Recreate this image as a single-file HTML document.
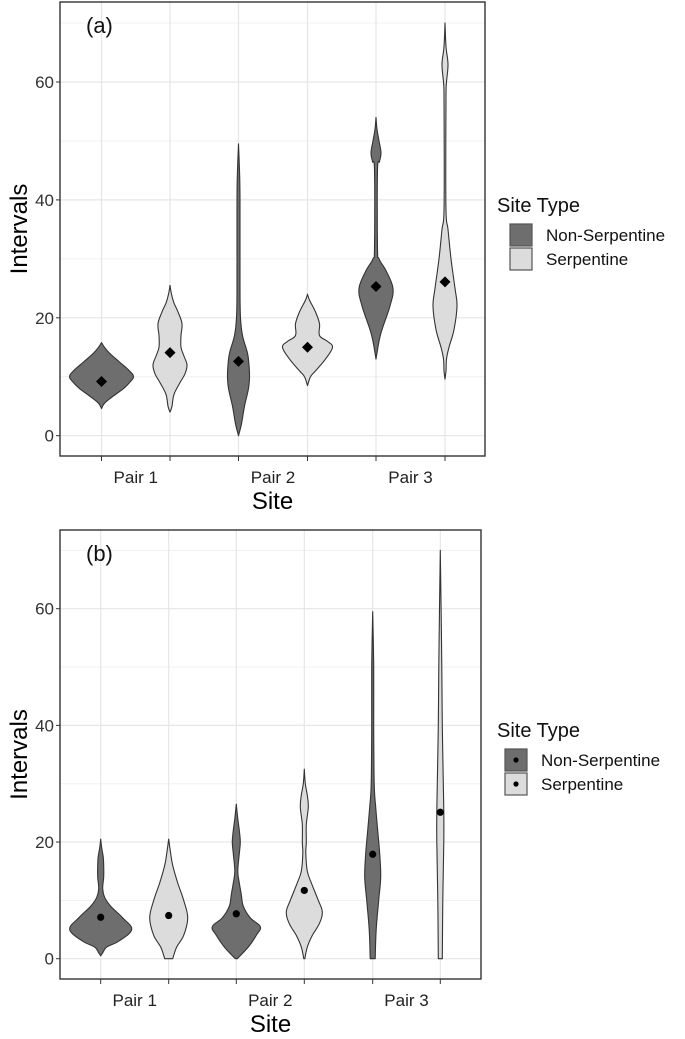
<!DOCTYPE html>
<html><head><meta charset="utf-8"><style>
body{margin:0;background:#fff;}
svg text{font-family:"Liberation Sans",sans-serif;}
</style></head><body>
<svg id="chart" width="685" height="1034" viewBox="0 0 685 1034" xmlns="http://www.w3.org/2000/svg"></svg>
<script>
// ---- data ----
const sites = ["Pair 1","Pair 2","Pair 3"];
const siteTypes = ["Non-Serpentine","Serpentine"];
const yTicks = [0,20,40,60];
// panel (a) density profiles: [value, relative half-width]
const aProfiles = [
 [[4.6,0],[5.5,3],[6.5,10],[8,22],[9,28],[10,32],[11,28],[12.5,18],[14,8],[15,3],[15.8,0]],
 [[4,0],[5,2],[7,4],[9,10],[10.5,15],[12,17],[13.5,14],[15,11],[17,11],[19,12],[21,8],[22.5,4],[24,1.5],[25.5,0]],
 [[0,0],[2,3],[5,6],[8,10],[10,11],[12,10.5],[14,9],[17,4],[20,2],[25,1.5],[40,1.5],[45,1],[49.5,0]],
 [[8.5,0],[10,3],[11,8],[13,18],[15,25],[16,20],[17,12],[19,12],[21,8],[23,2],[24,0]],
 [[13,0],[16,3],[18,6],[22,14],[25,17],[28,10],[30,3],[32,1.5],[45,1.5],[46.5,3.5],[48,5],[50,3],[52,1],[54,0]],
 [[9.6,0],[11,1],[13,1.5],[15,4],[18,9],[22,12],[25,10],[30,6],[35,3],[38,1],[50,0.8],[58,1],[60,1.5],[63,3],[66,1],[70,0]]
];
const aMeans = [9.2,14.1,12.6,15.0,25.3,26.1];
// panel (b)
const bProfiles = [
 [[0.5,0],[1,2],[2,6],[3,18],[5,31],[7,22],[9,10],[10.5,4],[12,2],[14,3],[16,3],[17.5,2.5],[19,1],[20.5,0]],
 [[0,0],[0,4],[2,8],[4,15],[7,19],[10,15],[13,9],[16,4],[18,2],[20.5,0]],
 [[0,0],[0,1],[2,12],[4,20],[5.5,24],[7,14],[9,7],[11,5],[13,3],[15,1.5],[18,3],[20,4],[22,3],[24,1.5],[26.5,0]],
 [[0,0],[0,0.5],[2,3],[4,8],[6,15],[8,18],[10,14],[13,7],[15,3],[18,1.5],[20,2],[23,2],[26,4],[28,3],[30,1],[32.5,0]],
 [[0,0],[0,2.5],[5,3.5],[10,6],[14,8],[18,7],[22,5],[26,3],[30,1.5],[40,1],[50,1],[59.5,0]],
 [[0,0],[0,2],[10,2.5],[20,3.5],[25,3.5],[30,3],[40,2],[50,1.5],[60,0.8],[70,0]]
];
const bMeans = [7.1,7.4,7.7,11.7,17.9,25.1];

const NS="http://www.w3.org/2000/svg";
const svg=document.getElementById('chart');
function mk(tag,attrs,parent){const e=document.createElementNS(NS,tag);for(const k in attrs)e.setAttribute(k,attrs[k]);(parent||svg).appendChild(e);return e;}
const fills=["#6e6e6e","#dcdcdc"];

function smooth(pts){
  let d='M'+pts[0][0]+','+pts[0][1];
  for(let i=0;i<pts.length-1;i++){
    const p1=pts[i],p2=pts[i+1];
    if(p1[1]===p2[1]){d+=`L${p2[0]},${p2[1]}`;continue;}
    let p0=pts[Math.max(0,i-1)],p3=pts[Math.min(pts.length-1,i+2)];
    if(p0[1]===p1[1])p0=p1;
    if(p3[1]===p2[1])p3=p2;
    const t=0.18;
    const c1=[p1[0]+(p2[0]-p0[0])*t,p1[1]+(p2[1]-p0[1])*t];
    const c2=[p2[0]-(p3[0]-p1[0])*t,p2[1]-(p3[1]-p1[1])*t];
    d+=`C${c1[0]},${c1[1]} ${c2[0]},${c2[1]} ${p2[0]},${p2[1]}`;
  }
  return d;
}

function panel(cfg){
  const g=mk('g',{});
  
  
  const yS=v=>cfg.y0-(cfg.y0-cfg.y60)*v/60;
  const xC=i=>cfg.xs[i];
  for(let v=10;v<=70;v+=20){const l=mk('line',{x1:cfg.L,x2:cfg.R,y1:yS(v),y2:yS(v),stroke:'#f0f0f0','stroke-width':1},g);
    }
  yTicks.forEach(v=>{const l=mk('line',{x1:cfg.L,x2:cfg.R,y1:yS(v),y2:yS(v),stroke:'#e6e6e6','stroke-width':1.2},g);
    
    const t=mk('text',{x:cfg.L-6,y:yS(v)+6,'text-anchor':'end','font-size':17,fill:'#333'},g);t.textContent=v;
    
    mk('line',{x1:cfg.L-4,x2:cfg.L,y1:yS(v),y2:yS(v),stroke:'#333'},g);
  });
  cfg.xs.forEach(x=>{const l=mk('line',{x1:x,x2:x,y1:cfg.T,y2:cfg.B,stroke:'#e6e6e6','stroke-width':1.2},g);
    
    mk('line',{x1:x,x2:x,y1:cfg.B,y2:cfg.B+5,stroke:'#333'},g);});
  cfg.profiles.forEach((p,i)=>{
    const cx=xC(i);
    const right=p.map(q=>[cx+q[1],yS(q[0])]);
    const left=p.slice().reverse().map(q=>[cx-q[1],yS(q[0])]);
    const d=smooth(right)+smooth(left).replace(/^M/,'L')+'Z';
    const path=mk('path',{d:d,fill:fills[i%2],stroke:'#333','stroke-width':1.1,'stroke-linejoin':'round'},g);
    
    
    const m=cfg.means[i], my=yS(m);
    let mark;
    if(cfg.diamond){mark=mk('path',{d:`M${cx},${my-5.5}L${cx+5.5},${my}L${cx},${my+5.5}L${cx-5.5},${my}Z`,fill:'#000'},g);}
    else{mark=mk('circle',{cx:cx,cy:my,r:3.6,fill:'#000'},g);}
    
    
  });
  const box=mk('rect',{x:cfg.L,y:cfg.T,width:cfg.R-cfg.L,height:cfg.B-cfg.T,fill:'none',stroke:'#333','stroke-width':1.4},g);
  
  sites.forEach((s,k)=>{const t=mk('text',{x:(cfg.xs[2*k]+cfg.xs[2*k+1])/2,y:cfg.B+27,'text-anchor':'middle','font-size':17,fill:'#222'},g);t.textContent=s;
    });
  const xt=mk('text',{x:(cfg.L+cfg.R)/2,y:cfg.B+53,'text-anchor':'middle','font-size':24,fill:'#000'},g);xt.textContent='Site';
  
  const cy=(cfg.T+cfg.B)/2;
  const yt=mk('text',{x:0,y:0,transform:`translate(27,${cy}) rotate(-90)`,'text-anchor':'middle','font-size':24,fill:'#000'},g);yt.textContent='Intervals';
  
  const lab=mk('text',{x:cfg.L+26,y:cfg.T+31,'font-size':22,fill:'#111'},g);lab.textContent=cfg.label;
  
  const lt=mk('text',{x:497,y:cfg.legY,'font-size':20,fill:'#111'},g);lt.textContent='Site Type';
  
  siteTypes.forEach((s,k)=>{
    const ky=cfg.legY+12+k*24;
    const r=mk('rect',{x:cfg.keyX,y:ky,width:22,height:22,fill:fills[k],stroke:'#555','stroke-width':1.2},g);
    
    if(!cfg.diamond){mk('circle',{cx:cfg.keyX+11,cy:ky+11,r:2.6,fill:'#000'},g);}
    const t=mk('text',{x:cfg.keyX+36,y:ky+17,'font-size':17,fill:'#111'},g);t.textContent=s;
    
  });
}
panel({name:'panel-a',label:'(a)',L:60,R:485,T:2,B:456,y0:435.7,y60:82,xs:[101.5,170,238.5,307.5,376,445],profiles:aProfiles,means:aMeans,diamond:true,legY:212,keyX:510});
panel({name:'panel-b',label:'(b)',L:60,R:481,T:530,B:979,y0:958.7,y60:608.7,xs:[100.7,168.7,236.3,304.3,372.7,440.3],profiles:bProfiles,means:bMeans,diamond:false,legY:737,keyX:505});
</script>
</body></html>
